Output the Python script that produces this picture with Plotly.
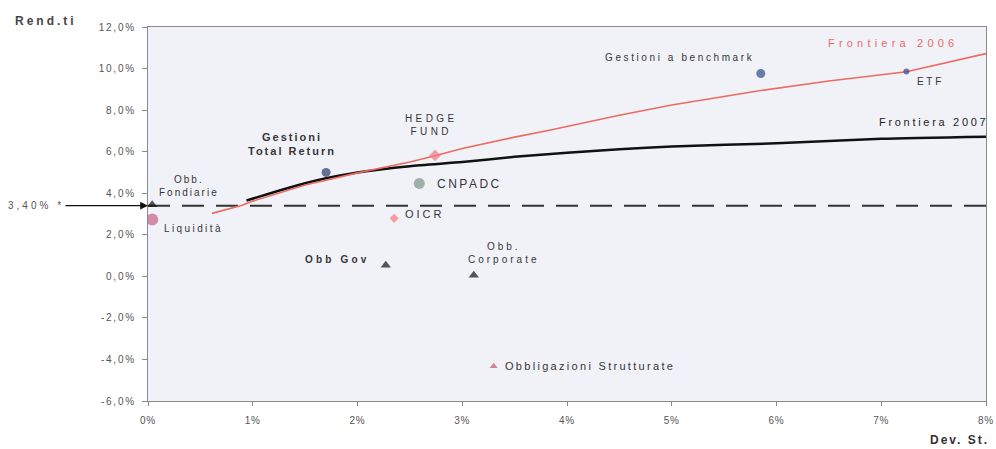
import plotly.graph_objects as go

# Frontier curves (x = Dev. St. %, y = Rend.ti %)
f2006_x = [0.61, 0.80, 0.90, 1.00, 1.50, 2.00, 2.50, 2.74, 3.00, 3.50, 3.82, 4.50, 5.00, 5.85, 6.50, 7.24, 8.00]
f2006_y = [3.03, 3.30, 3.42, 3.62, 4.40, 4.98, 5.50, 5.80, 6.15, 6.70, 7.02, 7.75, 8.25, 8.94, 9.40, 9.85, 10.72]
f2007_x = [0.94, 1.20, 1.50, 1.70, 2.00, 2.50, 3.00, 3.50, 4.00, 4.50, 5.00, 6.00, 7.00, 8.00]
f2007_y = [3.65, 4.05, 4.48, 4.72, 5.00, 5.30, 5.50, 5.75, 5.95, 6.12, 6.25, 6.40, 6.62, 6.72]

# Asset classes
names = ["Obb. Fondiarie", "Liquidità", "Gestioni Total Return", "HEDGE FUND", "CNPADC", "OICR",
         "Obb Gov", "Obb. Corporate", "Obbligazioni Strutturate", "Gestioni a benchmark", "ETF"]
dev_st = [0.04, 0.04, 1.70, 2.74, 2.59, 2.35, 2.27, 3.11, 3.30, 5.85, 7.24]
rend = [3.45, 2.74, 5.00, 5.82, 4.47, 2.79, 0.53, 0.05, -4.33, 9.76, 9.86]
symbols = ["triangle-up", "circle", "circle", "diamond", "circle", "diamond",
           "triangle-up", "triangle-up", "triangle-up", "circle", "circle"]
colors = ["#111111", "#c95f82", "#2c3966", "#f07a82", "#7d958a", "#f27c7c",
          "#111111", "#111111", "#c0586c", "#34488a", "#34488a"]
sizes = [9, 12, 9, 9, 11, 7, 9, 9, 7, 9, 6]

benchmark = 3.40
x_ticks = [0, 1, 2, 3, 4, 5, 6, 7, 8]
x_labels = ["0%", "1%", "2%", "3%", "4%", "5%", "6%", "7%", "8%"]
y_ticks = [-6, -4, -2, 0, 2, 4, 6, 8, 10, 12]
y_labels = ["-6,0%", "-4,0%", "-2,0%", "0,0%", "2,0%", "4,0%", "6,0%", "8,0%", "10,0%", "12,0%"]

FONT = "Arial, Liberation Sans, sans-serif"
TXT = "#363636"


def sp(text, ls, bold=False):
    lines = text.split("<br>")
    out = []
    for ln in lines:
        s = f'<span style="letter-spacing:{ls}px">{ln}</span>'
        if bold:
            s = f"<b>{s}</b>"
        out.append(s)
    return "<br>".join(out)


fig = go.Figure()

fig.add_trace(go.Scatter(x=[0, 8], y=[benchmark, benchmark], mode="lines",
                         line=dict(color="#333333", width=2, dash="22px,12px"),
                         showlegend=False, hoverinfo="skip"))
fig.add_trace(go.Scatter(x=f2007_x, y=f2007_y, mode="lines", name="Frontiera 2007",
                         line=dict(color="#111111", width=2.5, shape="spline", smoothing=0.6),
                         showlegend=False))
fig.add_trace(go.Scatter(x=f2006_x, y=f2006_y, mode="lines", name="Frontiera 2006",
                         line=dict(color="#ec6b62", width=1.6), showlegend=False))
fig.add_trace(go.Scatter(x=dev_st, y=rend, mode="markers", text=names,
                         marker=dict(symbol=symbols, color=colors, size=sizes, line=dict(width=0)),
                         showlegend=False))


def lab(x, y, text, size=10, ls=2.5, color=TXT, xanchor="center", bold=False):
    fig.add_annotation(x=x, y=y, xref="x", yref="y", text=sp(text, ls, bold), showarrow=False,
                       xanchor=xanchor, yanchor="middle",
                       font=dict(family=FONT, size=size, color=color))


lab(0.39, 4.35, "Obb.<br>Fondiarie", size=10, ls=2)
lab(0.43, 2.32, "Liquidità", size=10, ls=2.4)
lab(1.37, 6.35, "Gestioni<br>Total Return", size=11, ls=2, bold=True)
lab(2.71, 7.28, "HEDGE<br>FUND", size=10, ls=3.4)
lab(2.74, 4.45, "CNPADC", size=12, ls=2.5, xanchor="left")
lab(2.43, 3.00, "OICR", size=11, ls=3, xanchor="left")
lab(2.14, 0.80, "Obb Gov", size=10, ls=3.2, xanchor="right", bold=True)
lab(3.39, 1.10, "Obb.<br>Corporate", size=10, ls=3)
lab(3.39, -4.33, "Obbligazioni Strutturate", size=11, ls=2.3, xanchor="left")
lab(5.07, 10.55, "Gestioni a benchmark", size=10, ls=2.6)
lab(7.32, 9.40, "ETF", size=10, ls=2.7, xanchor="left")
lab(7.11, 11.25, "Frontiera 2006", size=11, ls=4.2, color="#ec6b62")
lab(7.50, 7.45, "Frontiera 2007", size=11, ls=2.7, color="#222222")

# benchmark arrow
fig.add_annotation(x=0, y=benchmark, xref="x", yref="y", text=sp("3,40% *", 3), showarrow=True,
                   arrowhead=2, arrowsize=1.2, arrowwidth=1.3, arrowcolor="#111111",
                   ax=-112, ay=0, axref="pixel", ayref="pixel",
                   font=dict(family=FONT, size=10, color="#555555"))

fig.add_annotation(x=-0.1615, y=1.016, xref="paper", yref="paper", text=sp("Rend.ti", 3, True),
                   showarrow=False, xanchor="left", yanchor="middle",
                   font=dict(family=FONT, size=12, color="#444444"))
fig.add_annotation(x=1.006, y=-0.104, xref="paper", yref="paper", text=sp("Dev. St.", 2, True),
                   showarrow=False, xanchor="right", yanchor="middle",
                   font=dict(family=FONT, size=12, color="#333333"))

fig.update_xaxes(range=[0, 8], tickvals=x_ticks, ticktext=[sp(t, 0.8) for t in x_labels],
                 showgrid=False, zeroline=False, showline=True, linecolor="#8a8a8a",
                 linewidth=1, mirror=True, ticks="outside", ticklen=4, tickcolor="#8a8a8a",
                 ticklabelstandoff=6, ticklabeloverflow="allow", automargin=False,
                 tickfont=dict(family=FONT, size=10, color="#555555"))
fig.update_yaxes(range=[-6, 12], tickvals=y_ticks, ticktext=[sp(t, 1.8) for t in y_labels],
                 showgrid=False, zeroline=False, showline=True, linecolor="#8a8a8a",
                 linewidth=1, mirror=True, ticks="outside", ticklen=5, tickcolor="#8a8a8a",
                 ticklabelstandoff=4, automargin=False,
                 tickfont=dict(family=FONT, size=10, color="#555555"))

fig.update_layout(width=996, height=449, margin=dict(l=148, r=10, t=27, b=48, autoexpand=False),
                  plot_bgcolor="#f0f2f8", paper_bgcolor="#ffffff",
                  font=dict(family=FONT), showlegend=False)

fig.write_html("out.html")
